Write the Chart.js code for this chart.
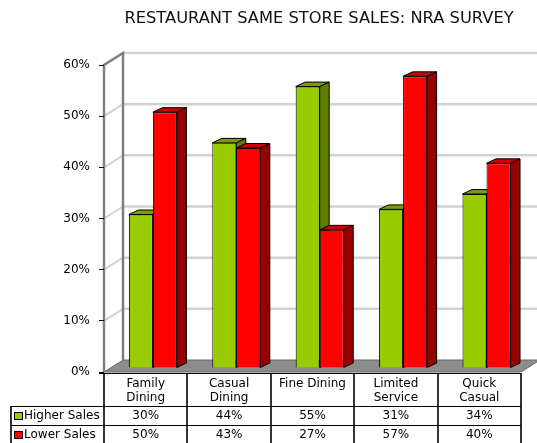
<!DOCTYPE html>
<html>
<head>
<meta charset="utf-8">
<script src="https://cdn.jsdelivr.net/npm/chart.js@4/dist/chart.umd.min.js"></script>
<style>
  html, body { margin: 0; padding: 0; background: #fff; }
  canvas { display: block; }
</style>
</head>
<body>
<canvas id="mainChart" width="537" height="443"></canvas>
<script>
// Dados do grafico
const categorias = [['Family', 'Dining'], ['Casual', 'Dining'], 'Fine Dining', ['Limited', 'Service'], ['Quick', 'Casual']];
const higherSales = [30, 44, 55, 31, 34];
const lowerSales = [50, 43, 27, 57, 40];
const nomesSeries = ['Higher Sales', 'Lower Sales'];
const yTicks = [0, 10, 20, 30, 40, 50, 60];
const titulo = 'RESTAURANT SAME STORE SALES: NRA SURVEY';

// cores: frente, topo, lado
const cores = [
  { front: '#99cc00', top: '#7a9e00', side: '#5f7f00' },
  { front: '#ff0000', top: '#cc0000', side: '#990000' }
];

const FONTE = '12px "DejaVu Sans"';
const SHIFT = { x: 7.2, y: -4 };   // plano das barras em relacao ao eixo da frente
const DEPTH = { x: 9.5, y: -4.5 }; // profundidade de cada barra
const WALL = { x: 19, y: -12 };    // parede do fundo

// paredes, chao e grade (atras de tudo)
const paredes = {
  id: 'paredes',
  beforeDraw(chart) {
    const { ctx, chartArea: a, scales } = chart;
    const ys = scales.y;
    ctx.save();
    // chao
    ctx.beginPath();
    ctx.moveTo(a.left, a.bottom);
    ctx.lineTo(a.right, a.bottom);
    ctx.lineTo(a.right + WALL.x, a.bottom + WALL.y);
    ctx.lineTo(a.left + WALL.x, a.bottom + WALL.y);
    ctx.closePath();
    ctx.fillStyle = '#8c8c8c';
    ctx.fill();
    ctx.strokeStyle = '#6a6a6a';
    ctx.lineWidth = 1;
    ctx.stroke();

    // linhas de grade na parede do fundo e na lateral
    yTicks.forEach(v => {
      if (v === 0) return;
      const y = ys.getPixelForValue(v);
      ctx.strokeStyle = '#d2d2d2';
      ctx.lineWidth = 2.5;
      ctx.beginPath();
      ctx.moveTo(a.left + WALL.x, y + WALL.y);
      ctx.lineTo(chart.width, y + WALL.y);
      ctx.stroke();
      ctx.lineWidth = 2;
      ctx.beginPath();
      ctx.moveTo(a.left, y);
      ctx.lineTo(a.left + WALL.x, y + WALL.y);
      ctx.stroke();
    });

    // arestas da parede lateral
    ctx.strokeStyle = '#808080';
    ctx.lineWidth = 2.5;
    ctx.beginPath();
    ctx.moveTo(a.left, a.bottom);
    ctx.lineTo(a.left, a.top);
    ctx.lineTo(a.left + WALL.x, a.top + WALL.y);
    ctx.lineTo(a.left + WALL.x, a.bottom + WALL.y);
    ctx.stroke();
    ctx.restore();
  }
};

// faces 3D das barras
const barras3d = {
  id: 'barras3d',
  beforeDatasetsDraw(chart) {
    const ctx = chart.ctx;
    ctx.save();
    ctx.translate(SHIFT.x, SHIFT.y);
    chart.data.datasets.forEach((ds, i) => {
      const c = cores[i];
      chart.getDatasetMeta(i).data.forEach(bar => {
        const { x, y, base, width } = bar.getProps(['x', 'y', 'base', 'width'], true);
        const l = x - width / 2, r = x + width / 2;
        ctx.lineWidth = 1;
        ctx.strokeStyle = '#000';
        // topo
        ctx.beginPath();
        ctx.moveTo(l, y);
        ctx.lineTo(l + DEPTH.x, y + DEPTH.y);
        ctx.lineTo(r + DEPTH.x, y + DEPTH.y);
        ctx.lineTo(r, y);
        ctx.closePath();
        ctx.fillStyle = c.top;
        ctx.fill();
        ctx.stroke();
        // lado
        ctx.beginPath();
        ctx.moveTo(r, y);
        ctx.lineTo(r + DEPTH.x, y + DEPTH.y);
        ctx.lineTo(r + DEPTH.x, base + DEPTH.y);
        ctx.lineTo(r, base);
        ctx.closePath();
        ctx.fillStyle = c.side;
        ctx.fill();
        ctx.stroke();
      });
    });
    // fica transladado para a frente das barras
  },
  afterDatasetsDraw(chart) {
    chart.ctx.restore();
  }
};

// tabela de dados, legenda e titulo
const tabela = {
  id: 'tabela',
  afterDraw(chart) {
    const { ctx, chartArea: a, scales } = chart;
    const xs = scales.x;
    const cw = (a.right - a.left) / categorias.length;
    const topo = a.bottom + 1;
    const linhas = [406, 425, 444];
    const esq = 11;
    ctx.save();
    ctx.strokeStyle = '#000';

    // linha de frente do chao
    ctx.lineWidth = 1;
    ctx.beginPath();
    ctx.moveTo(a.left - 5, topo + 0.5);
    ctx.lineTo(a.right, topo + 0.5);
    ctx.stroke();

    // horizontais
    linhas.forEach(y => {
      ctx.beginPath();
      ctx.moveTo(esq, y + 0.5);
      ctx.lineTo(a.right, y + 0.5);
      ctx.stroke();
    });

    // verticais
    ctx.lineWidth = 1.6;
    for (let k = 0; k <= categorias.length; k++) {
      const x = Math.round(a.left + k * cw);
      ctx.beginPath();
      ctx.moveTo(x, topo);
      ctx.lineTo(x, chart.height);
      ctx.stroke();
    }
    ctx.beginPath();
    ctx.moveTo(esq, linhas[0]);
    ctx.lineTo(esq, chart.height);
    ctx.stroke();

    // valores
    ctx.font = FONTE;
    ctx.fillStyle = '#000';
    ctx.textBaseline = 'middle';
    const series = [higherSales, lowerSales];
    series.forEach((vals, i) => {
      const yc = (linhas[i] + linhas[i + 1]) / 2 + 0.5;
      ctx.textAlign = 'center';
      vals.forEach((v, j) => {
        ctx.fillText(v + '%', xs.getPixelForValue(j), yc);
      });
      // legenda
      ctx.fillStyle = cores[i].front;
      ctx.fillRect(14.5, yc - 3.5, 8, 7);
      ctx.lineWidth = 1;
      ctx.strokeRect(14.5, yc - 3.5, 8, 7);
      ctx.fillStyle = '#000';
      ctx.textAlign = 'left';
      ctx.fillText(nomesSeries[i], 24, yc);
    });

    // titulo
    ctx.font = '16.3px "DejaVu Sans"';
    ctx.fillStyle = '#111';
    ctx.textAlign = 'center';
    ctx.fillText(titulo, 319, 19);
    ctx.restore();
  }
};

new Chart(document.getElementById('mainChart'), {
  type: 'bar',
  data: {
    labels: categorias,
    datasets: [
      { label: nomesSeries[0], data: higherSales, backgroundColor: cores[0].front, borderColor: '#000', borderWidth: 1 },
      { label: nomesSeries[1], data: lowerSales, backgroundColor: cores[1].front, borderColor: '#000', borderWidth: 1 }
    ]
  },
  options: {
    responsive: false,
    animation: false,
    layout: { padding: { top: 65, right: 16, left: 0, bottom: 0 } },
    datasets: { bar: { barPercentage: 1, categoryPercentage: 0.576 } },
    plugins: {
      legend: { display: false },
      tooltip: { enabled: false },
      title: { display: false }
    },
    scales: {
      x: {
        grid: { display: false },
        border: { display: false },
        ticks: { color: '#000', font: { family: 'DejaVu Sans', size: 12, lineHeight: 1.15 }, padding: -3, maxRotation: 0, autoSkip: false },
        afterFit(scale) { scale.height = 71; }
      },
      y: {
        min: 0,
        max: 60,
        grid: { drawOnChartArea: false, color: '#000', tickLength: 5, lineWidth: 1 },
        border: { display: false },
        ticks: { color: '#000', font: { family: 'DejaVu Sans', size: 12 }, padding: 9, callback: v => v + '%' },
        afterBuildTicks(scale) { scale.ticks = yTicks.map(v => ({ value: v })); },
        afterFit(scale) { scale.width = 104; }
      }
    }
  },
  plugins: [paredes, barras3d, tabela]
});
</script>
</body>
</html>
